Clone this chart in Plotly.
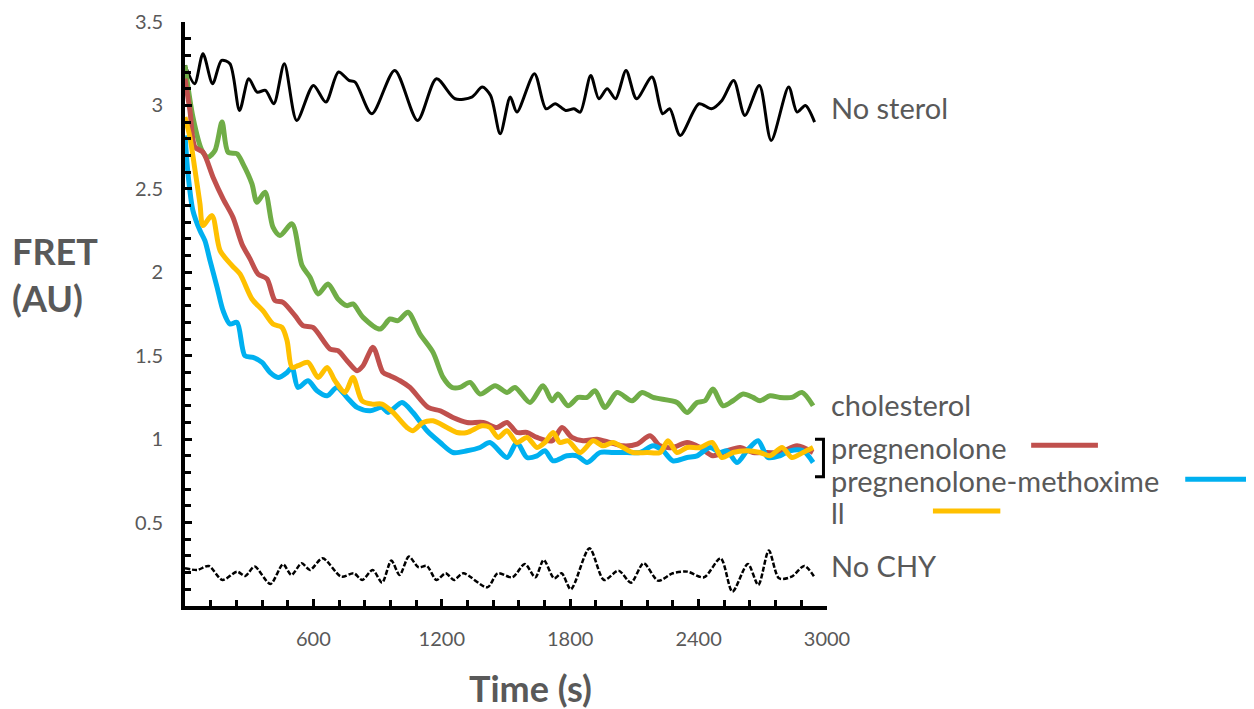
import plotly.graph_objects as go

# ---------------- data ----------------
t_nosterol = [0, 45, 84, 129, 171, 210, 255, 298, 337, 376, 415, 464, 522, 600, 658, 717, 766, 795, 873, 980,
              1087, 1175, 1262, 1340, 1389, 1428, 1473, 1520, 1551, 1633, 1687, 1730, 1779, 1818, 1847, 1896,
              1934, 1973, 2012, 2061, 2110, 2182, 2232, 2265, 2314, 2402, 2460, 2509, 2564, 2616, 2684, 2739,
              2821, 2860, 2899, 2942]
v_nosterol = [3.24, 3.13, 3.31, 3.13, 3.27, 3.25, 2.97, 3.16, 3.08, 3.09, 3.01, 3.25, 2.91, 3.12, 3.02, 3.20,
              3.15, 3.14, 2.95, 3.21, 2.91, 3.16, 3.04, 3.05, 3.11, 3.06, 2.83, 3.05, 2.96, 3.19, 2.98, 3.01,
              2.97, 2.98, 2.96, 3.18, 3.04, 3.10, 3.04, 3.21, 3.04, 3.17, 2.95, 2.98, 2.82, 3.01, 2.98, 3.03,
              3.15, 2.94, 3.12, 2.79, 3.11, 2.96, 3.00, 2.90]

t_chol = [0, 37, 79, 107, 140, 173, 201, 243, 271, 313, 336, 374, 411, 444, 500, 547, 584, 622, 668, 715,
          757, 785, 832, 911, 958, 995, 1042, 1098, 1159, 1206, 1248, 1285, 1332, 1379, 1449, 1505, 1542, 1612,
          1673, 1715, 1743, 1790, 1837, 1879, 1916, 1963, 2019, 2089, 2136, 2187, 2299, 2346, 2393, 2430,
          2467, 2514, 2561, 2608, 2654, 2687, 2734, 2780, 2836, 2883, 2935]
v_chol = [3.24, 2.93, 2.73, 2.69, 2.73, 2.90, 2.72, 2.71, 2.65, 2.53, 2.42, 2.48, 2.27, 2.22, 2.29, 2.04,
          1.97, 1.87, 1.93, 1.84, 1.80, 1.81, 1.73, 1.66, 1.72, 1.71, 1.76, 1.63, 1.52, 1.37, 1.31, 1.31, 1.34,
          1.27, 1.32, 1.28, 1.31, 1.22, 1.32, 1.23, 1.27, 1.20, 1.25, 1.25, 1.29, 1.19, 1.28, 1.23, 1.28, 1.25,
          1.22, 1.16, 1.22, 1.23, 1.30, 1.20, 1.23, 1.27, 1.25, 1.23, 1.26, 1.25, 1.25, 1.28, 1.20]

t_preg = [0, 23, 47, 84, 131, 178, 224, 266, 304, 341, 383, 421, 458, 514, 551, 598, 678, 715, 757, 804, 832,
          879, 925, 958, 1005, 1051, 1136, 1192, 1252, 1318, 1393, 1458, 1505, 1551, 1598, 1645, 1715, 1762,
          1808, 1860, 1925, 1986, 2047, 2112, 2173, 2220, 2280, 2346, 2407, 2467, 2533, 2594, 2654, 2720,
          2780, 2860, 2935]
v_preg = [3.16, 2.97, 2.75, 2.72, 2.57, 2.44, 2.33, 2.17, 2.08, 1.99, 1.96, 1.83, 1.82, 1.74, 1.68, 1.67, 1.54,
          1.53, 1.47, 1.41, 1.44, 1.55, 1.40, 1.38, 1.35, 1.31, 1.19, 1.17, 1.13, 1.10, 1.10, 1.07, 1.10, 1.04,
          1.04, 1.01, 0.99, 1.07, 1.01, 0.99, 1.00, 0.98, 0.96, 0.97, 1.02, 0.96, 0.95, 0.98, 0.95, 0.90, 0.93,
          0.95, 0.92, 0.92, 0.92, 0.96, 0.92]

t_meth = [0, 14, 37, 70, 93, 117, 150, 178, 210, 243, 280, 318, 360, 397, 435, 477, 500, 528, 575, 617, 664,
          710, 757, 804, 865, 921, 949, 1014, 1065, 1131, 1192, 1252, 1318, 1379, 1425, 1505, 1551, 1598,
          1645, 1682, 1720, 1785, 1832, 1879, 1939, 2000, 2065, 2126, 2187, 2234, 2280, 2346, 2393, 2453,
          2500, 2533, 2580, 2626, 2678, 2724, 2780, 2827, 2888, 2935]
v_meth = [2.82, 2.59, 2.37, 2.25, 2.19, 2.07, 1.91, 1.77, 1.69, 1.70, 1.50, 1.49, 1.46, 1.40, 1.37, 1.40, 1.43,
          1.31, 1.35, 1.29, 1.26, 1.31, 1.25, 1.19, 1.17, 1.19, 1.16, 1.22, 1.16, 1.05, 0.98, 0.92, 0.93, 0.95,
          0.98, 0.89, 0.98, 0.89, 0.90, 0.93, 0.87, 0.90, 0.90, 0.86, 0.92, 0.92, 0.92, 0.92, 0.96, 0.93, 0.87,
          0.89, 0.90, 0.95, 0.92, 0.93, 0.86, 0.93, 0.99, 0.89, 0.90, 0.93, 0.93, 0.86]

t_ll = [0, 23, 47, 70, 84, 126, 164, 220, 257, 313, 364, 411, 453, 477, 500, 528, 575, 622, 664, 701, 748,
        785, 827, 874, 921, 972, 1037, 1065, 1112, 1159, 1224, 1271, 1318, 1388, 1425, 1463, 1505, 1551, 1598,
        1645, 1682, 1720, 1752, 1790, 1846, 1907, 1953, 2000, 2047, 2093, 2159, 2220, 2257, 2299, 2346, 2407,
        2463, 2509, 2561, 2626, 2687, 2734, 2790, 2836, 2888, 2935]
v_ll = [2.93, 2.81, 2.61, 2.41, 2.28, 2.34, 2.13, 2.04, 1.99, 1.84, 1.77, 1.69, 1.67, 1.59, 1.43, 1.44, 1.46,
        1.37, 1.43, 1.35, 1.28, 1.37, 1.23, 1.21, 1.21, 1.16, 1.07, 1.05, 1.10, 1.11, 1.07, 1.04, 1.04, 1.08,
        1.07, 1.01, 1.05, 0.98, 1.01, 0.95, 0.98, 1.04, 0.98, 0.99, 0.92, 0.99, 0.96, 0.98, 0.95, 0.92, 0.92,
        0.92, 0.99, 0.92, 0.95, 0.95, 0.98, 0.89, 0.92, 0.93, 0.92, 0.90, 0.95, 0.89, 0.92, 0.95]

t_nochy = [0, 58, 111, 175, 243, 282, 325, 399, 458, 497, 545, 584, 643, 730, 789, 828, 877, 921, 964, 1003,
           1046, 1091, 1130, 1175, 1218, 1257, 1300, 1413, 1461, 1530, 1588, 1637, 1676, 1725, 1760, 1803,
           1890, 1958, 2026, 2084, 2143, 2211, 2279, 2347, 2425, 2503, 2558, 2630, 2679, 2728, 2776, 2835,
           2894, 2942]
v_nochy = [0.226, 0.216, 0.24, 0.156, 0.206, 0.18, 0.236, 0.132, 0.25, 0.186, 0.256, 0.216, 0.286, 0.176,
           0.196, 0.156, 0.216, 0.14, 0.272, 0.186, 0.296, 0.232, 0.24, 0.156, 0.196, 0.156, 0.196, 0.112,
           0.196, 0.172, 0.252, 0.172, 0.276, 0.166, 0.196, 0.10, 0.346, 0.156, 0.212, 0.14, 0.256, 0.152,
           0.196, 0.206, 0.172, 0.286, 0.086, 0.252, 0.126, 0.332, 0.166, 0.176, 0.24, 0.172]

x_ticks = [600, 1200, 1800, 2400, 3000]
y_ticks = [0.5, 1, 1.5, 2, 2.5, 3, 3.5]
y_tick_text = ["0.5", "1", "1.5", "2", "2.5", "3", "3.5"]

series_labels = ["No sterol", "cholesterol", "pregnenolone", "pregnenolone-methoxime", "ll", "No CHY"]
label_y = [2.99, 1.21, 0.95, 0.755, 0.56, 0.245]

GRAY = "#595959"
FONT = "Lato"

fig = go.Figure()

def add(t, v, color, width, dash="solid"):
    fig.add_trace(go.Scatter(x=t, y=v, mode="lines",
                             line=dict(color=color, width=width, dash=dash, shape="spline", smoothing=0.8),
                             showlegend=False, hoverinfo="skip", cliponaxis=False))

add(t_nochy, v_nochy, "black", 2.5, "5px,2px")
add(t_nosterol, v_nosterol, "black", 3)
add(t_chol, v_chol, "#70AD47", 5)
add(t_preg, v_preg, "#C0504D", 5)
add(t_meth, v_meth, "#00B0F0", 5)
add(t_ll, v_ll, "#FFC000", 5)

for txt, yv in zip(series_labels, label_y):
    fig.add_annotation(x=1.0, xref="paper", xshift=2, y=yv, yref="y", text=txt, showarrow=False,
                       xanchor="left", yanchor="middle", font=dict(family=FONT, size=29, color=GRAY))

# legend-like line segments next to labels
fig.add_shape(type="line", xref="paper", yref="y", x0=1.318, x1=1.422, y0=0.963, y1=0.963,
              line=dict(color="#C0504D", width=5))
fig.add_shape(type="line", xref="paper", yref="y", x0=1.558, x1=1.70, y0=0.76, y1=0.76,
              line=dict(color="#00B0F0", width=5))
fig.add_shape(type="line", xref="paper", yref="y", x0=1.165, x1=1.27, y0=0.57, y1=0.57,
              line=dict(color="#FFC000", width=5))
# bracket
fig.add_shape(type="path", xref="paper", yref="y",
              path="M 0.9813,1.0 L 0.9945,1.0 L 0.9945,0.775 L 0.9813,0.775",
              line=dict(color="black", width=3))

# axis titles
fig.add_annotation(x=-0.272, xref="paper", y=0.567, yref="paper", text="<b>FRET<br>(AU)</b>",
                   showarrow=False, xanchor="left", yanchor="middle", align="left",
                   font=dict(family=FONT, size=36, color=GRAY))
fig.add_annotation(x=0.538, xref="paper", y=-0.140, yref="paper", text="<b>Time (s)</b>",
                   showarrow=False, xanchor="center", yanchor="middle",
                   font=dict(family=FONT, size=36, color=GRAY))

fig.update_xaxes(range=[0, 3000], tickvals=x_ticks, ticktext=[str(v) for v in x_ticks], automargin=False,
                 showline=True, linecolor="black", linewidth=4, showgrid=False, zeroline=False,
                 ticks="inside", ticklen=7, tickwidth=3, tickcolor="black",
                 minor=dict(dtick=120, tick0=0, ticks="inside", ticklen=6, tickwidth=3, tickcolor="black"),
                 tickfont=dict(family=FONT, size=20, color=GRAY), ticklabelstandoff=12)
fig.update_yaxes(range=[0, 3.5], tickvals=y_ticks, ticktext=y_tick_text, automargin=False,
                 showline=True, linecolor="black", linewidth=4, showgrid=False, zeroline=False,
                 ticks="inside", ticklen=7, tickwidth=3, tickcolor="black",
                 minor=dict(dtick=0.1, tick0=0, ticks="inside", ticklen=6, tickwidth=3, tickcolor="black"),
                 tickfont=dict(family=FONT, size=20, color=GRAY), ticklabelstandoff=14)

# page has an 8px body margin, so the figure is shifted to keep the plot area in place
fig.update_layout(width=1246, height=701, margin=dict(l=177, r=427, t=14, b=103),
                  plot_bgcolor="white", paper_bgcolor="white")

fig.write_html("out.html")
